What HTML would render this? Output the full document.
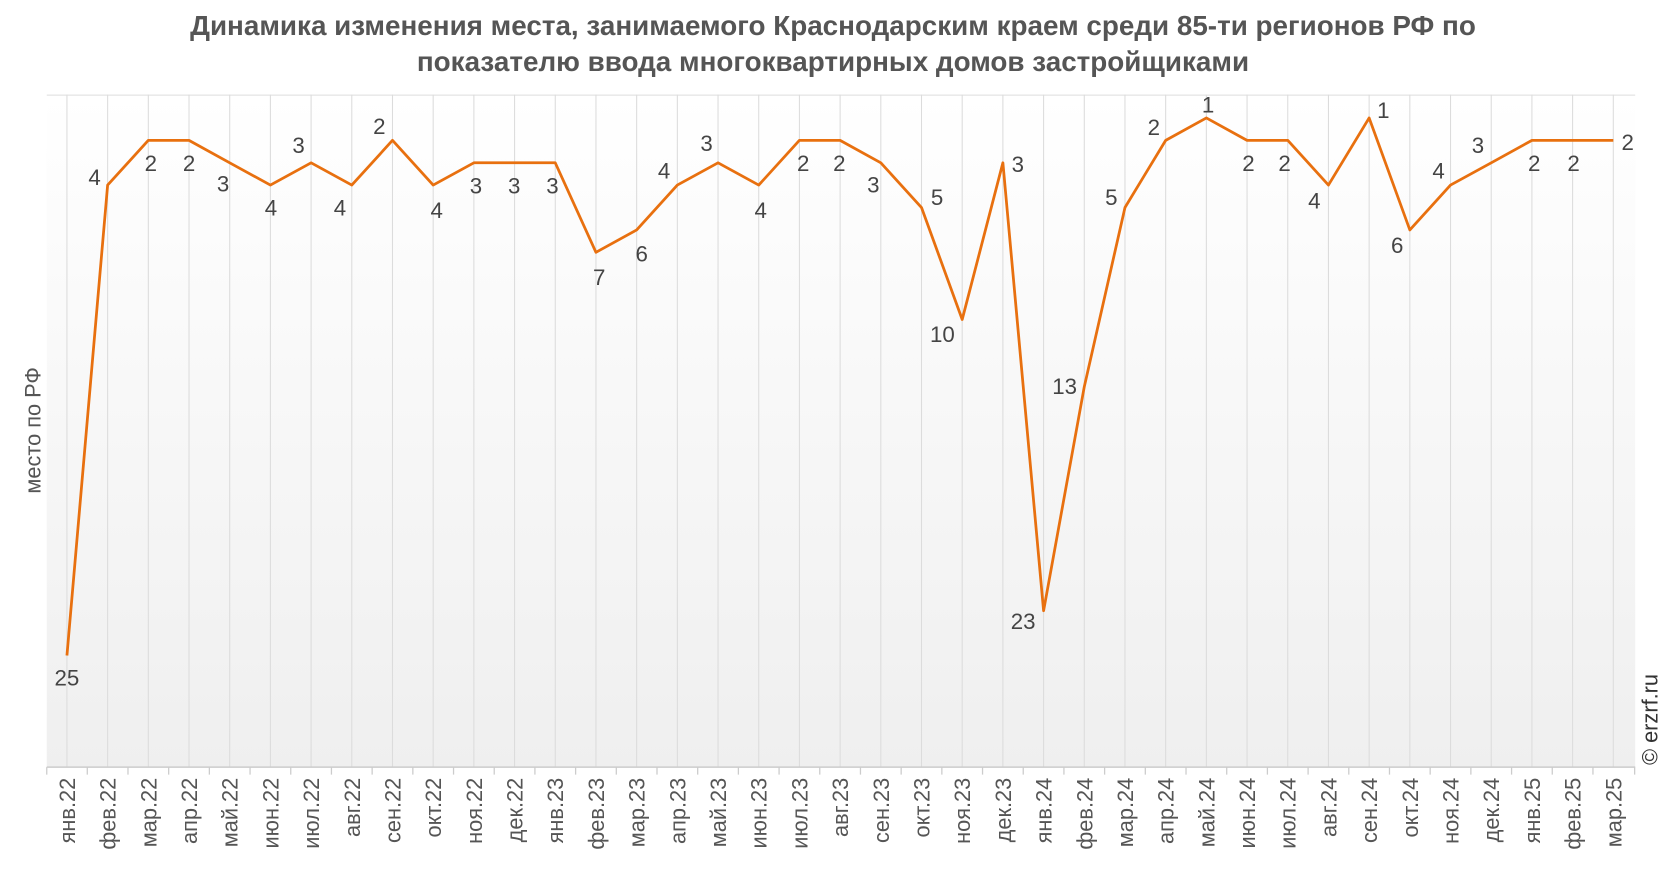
<!DOCTYPE html>
<html><head><meta charset="utf-8"><style>
html,body{margin:0;padding:0;background:#fff;}
svg{display:block;font-family:"Liberation Sans",Arial,sans-serif;}
</style></head><body>
<svg width="1666" height="872" viewBox="0 0 1568 820.7" xmlns="http://www.w3.org/2000/svg">
<defs><linearGradient id="bg" x1="0" y1="0" x2="0" y2="1"><stop offset="0" stop-color="#ffffff"/><stop offset="1" stop-color="#efefef"/></linearGradient></defs>
<text x="784" y="33" text-anchor="middle" font-size="26.2" font-weight="bold" fill="#555">Динамика изменения места, занимаемого Краснодарским краем среди 85-ти регионов РФ по</text>
<text x="784" y="67" text-anchor="middle" font-size="26.2" font-weight="bold" fill="#555">показателю ввода многоквартирных домов застройщиками</text>
<rect x="44" y="89" width="1495" height="633" fill="url(#bg)"/>
<line x1="44" y1="89.5" x2="1539" y2="89.5" stroke="#ddd" stroke-width="1"/>
<path stroke="#dcdcdc" stroke-width="1" fill="none" d="M63 89V722M101.3 89V722M139.6 89V722M177.9 89V722M216.2 89V722M254.5 89V722M292.8 89V722M331.1 89V722M369.4 89V722M407.7 89V722M446 89V722M484.3 89V722M522.6 89V722M560.9 89V722M599.2 89V722M637.5 89V722M675.8 89V722M714.1 89V722M752.4 89V722M790.7 89V722M829 89V722M867.3 89V722M905.6 89V722M943.9 89V722M982.2 89V722M1020.5 89V722M1058.8 89V722M1097.1 89V722M1135.4 89V722M1173.7 89V722M1212 89V722M1250.3 89V722M1288.6 89V722M1326.9 89V722M1365.2 89V722M1403.5 89V722M1441.8 89V722M1480.1 89V722M1518.4 89V722"/>
<line x1="44" y1="722" x2="1539" y2="722" stroke="#ccc" stroke-width="1.5"/>
<path stroke="#ccc" stroke-width="1.2" fill="none" d="M44 722V729M82.15 722V729M120.45 722V729M158.75 722V729M197.05 722V729M235.35 722V729M273.65 722V729M311.95 722V729M350.25 722V729M388.55 722V729M426.85 722V729M465.15 722V729M503.45 722V729M541.75 722V729M580.05 722V729M618.35 722V729M656.65 722V729M694.95 722V729M733.25 722V729M771.55 722V729M809.85 722V729M848.15 722V729M886.45 722V729M924.75 722V729M963.05 722V729M1001.35 722V729M1039.65 722V729M1077.95 722V729M1116.25 722V729M1154.55 722V729M1192.85 722V729M1231.15 722V729M1269.45 722V729M1307.75 722V729M1346.05 722V729M1384.35 722V729M1422.65 722V729M1460.95 722V729M1499.25 722V729M1538.5 722V729"/>
<polyline fill="none" stroke="#e8700f" stroke-width="2.6" stroke-linejoin="round" points="63,616.9 101.3,174.2 139.6,132.1 177.9,132.1 216.2,153.2 254.5,174.2 292.8,153.2 331.1,174.2 369.4,132.1 407.7,174.2 446,153.2 484.3,153.2 522.6,153.2 560.9,237.5 599.2,216.4 637.5,174.2 675.8,153.2 714.1,174.2 752.4,132.1 790.7,132.1 829,153.2 867.3,195.3 905.6,300.7 943.9,153.2 982.2,574.8 1020.5,364 1058.8,195.3 1097.1,132.1 1135.4,111 1173.7,132.1 1212,132.1 1250.3,174.2 1288.6,111 1326.9,216.4 1365.2,174.2 1403.5,153.2 1441.8,132.1 1480.1,132.1 1518.4,132.1"/>
<g font-size="21" fill="#444" text-anchor="middle">
<text x="63" y="645">25</text>
<text x="89" y="174">4</text>
<text x="142" y="161">2</text>
<text x="178" y="161">2</text>
<text x="210" y="180">3</text>
<text x="255" y="203">4</text>
<text x="281" y="144">3</text>
<text x="320" y="203">4</text>
<text x="357" y="126">2</text>
<text x="411" y="205">4</text>
<text x="448" y="182">3</text>
<text x="484" y="182">3</text>
<text x="520" y="182">3</text>
<text x="564" y="268">7</text>
<text x="604" y="246">6</text>
<text x="625" y="168">4</text>
<text x="665" y="142">3</text>
<text x="716" y="205">4</text>
<text x="756" y="161">2</text>
<text x="790" y="161">2</text>
<text x="822" y="181">3</text>
<text x="882" y="193">5</text>
<text x="887" y="322">10</text>
<text x="958" y="162">3</text>
<text x="963" y="592">23</text>
<text x="1002" y="371">13</text>
<text x="1046" y="193">5</text>
<text x="1086" y="127">2</text>
<text x="1137" y="106">1</text>
<text x="1175" y="161">2</text>
<text x="1209" y="161">2</text>
<text x="1237" y="196">4</text>
<text x="1302" y="111">1</text>
<text x="1315" y="238">6</text>
<text x="1354" y="168">4</text>
<text x="1391" y="144">3</text>
<text x="1444" y="161">2</text>
<text x="1481" y="161">2</text>
<text x="1532" y="141">2</text>
</g>
<g font-size="20.5" fill="#555" text-anchor="end">
<text transform="translate(70.5,732) rotate(-90)">янв.22</text>
<text transform="translate(108.8,732) rotate(-90)">фев.22</text>
<text transform="translate(147.1,732) rotate(-90)">мар.22</text>
<text transform="translate(185.4,732) rotate(-90)">апр.22</text>
<text transform="translate(223.7,732) rotate(-90)">май.22</text>
<text transform="translate(262,732) rotate(-90)">июн.22</text>
<text transform="translate(300.3,732) rotate(-90)">июл.22</text>
<text transform="translate(338.6,732) rotate(-90)">авг.22</text>
<text transform="translate(376.9,732) rotate(-90)">сен.22</text>
<text transform="translate(415.2,732) rotate(-90)">окт.22</text>
<text transform="translate(453.5,732) rotate(-90)">ноя.22</text>
<text transform="translate(491.8,732) rotate(-90)">дек.22</text>
<text transform="translate(530.1,732) rotate(-90)">янв.23</text>
<text transform="translate(568.4,732) rotate(-90)">фев.23</text>
<text transform="translate(606.7,732) rotate(-90)">мар.23</text>
<text transform="translate(645,732) rotate(-90)">апр.23</text>
<text transform="translate(683.3,732) rotate(-90)">май.23</text>
<text transform="translate(721.6,732) rotate(-90)">июн.23</text>
<text transform="translate(759.9,732) rotate(-90)">июл.23</text>
<text transform="translate(798.2,732) rotate(-90)">авг.23</text>
<text transform="translate(836.5,732) rotate(-90)">сен.23</text>
<text transform="translate(874.8,732) rotate(-90)">окт.23</text>
<text transform="translate(913.1,732) rotate(-90)">ноя.23</text>
<text transform="translate(951.4,732) rotate(-90)">дек.23</text>
<text transform="translate(989.7,732) rotate(-90)">янв.24</text>
<text transform="translate(1028,732) rotate(-90)">фев.24</text>
<text transform="translate(1066.3,732) rotate(-90)">мар.24</text>
<text transform="translate(1104.6,732) rotate(-90)">апр.24</text>
<text transform="translate(1142.9,732) rotate(-90)">май.24</text>
<text transform="translate(1181.2,732) rotate(-90)">июн.24</text>
<text transform="translate(1219.5,732) rotate(-90)">июл.24</text>
<text transform="translate(1257.8,732) rotate(-90)">авг.24</text>
<text transform="translate(1296.1,732) rotate(-90)">сен.24</text>
<text transform="translate(1334.4,732) rotate(-90)">окт.24</text>
<text transform="translate(1372.7,732) rotate(-90)">ноя.24</text>
<text transform="translate(1411,732) rotate(-90)">дек.24</text>
<text transform="translate(1449.3,732) rotate(-90)">янв.25</text>
<text transform="translate(1487.6,732) rotate(-90)">фев.25</text>
<text transform="translate(1525.9,732) rotate(-90)">мар.25</text>
</g>
<text transform="translate(38,405) rotate(-90)" font-size="20.5" fill="#555" text-anchor="middle">место по РФ</text>
<text transform="translate(1560,720) rotate(-90)" font-size="20.5" fill="#333" text-anchor="start">© erzrf.ru</text>
</svg>
</body></html>
